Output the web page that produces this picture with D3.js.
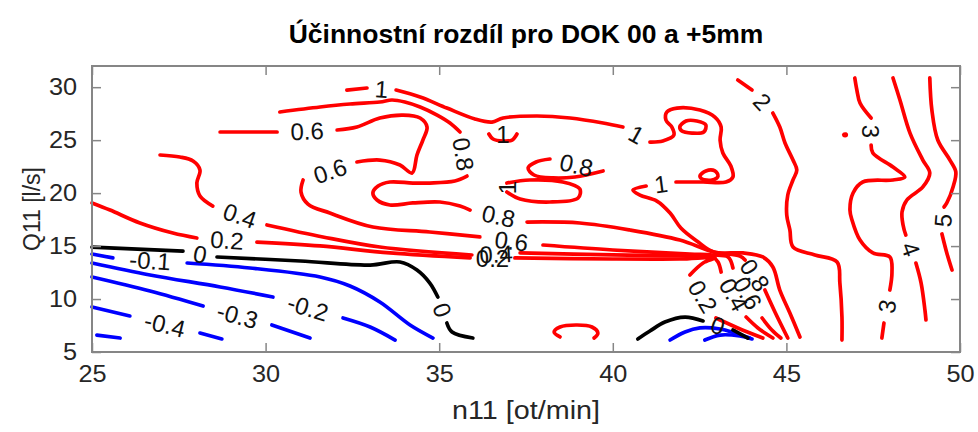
<!DOCTYPE html>
<html>
<head>
<meta charset="utf-8">
<script src="https://cdn.jsdelivr.net/npm/d3@7"></script>
<style>
  body { margin: 0; background: #fff; }
  svg { display: block; }
  text { font-family: "Liberation Sans", Arial, Helvetica, sans-serif; }
</style>
</head>
<body>
<svg id="chart" width="978" height="432"></svg>
<script>
// Axis extents and ticks
const xDomain = [25, 50];
const yDomain = [5, 32];
const xTicks = [25, 30, 35, 40, 45, 50];
const yTicks = [5, 10, 15, 20, 25, 30];

const titleText = "Účinnostní rozdíl pro DOK 00 a +5mm";
const xLabelText = "n11 [ot/min]";
const yLabelText = "Q11 [l/s]";

// Contour lines, points as [n11, Q11]. Each line is split where its inline label sits.
// closedLabel: the label sits in the gap between the last and first point.
const cNeg01a = { level: -0.1, segments: [
  [[25, 14.25], [25.60, 13.88]],
  [[27.74, 13.40], [29.55, 12.93], [31.57, 12.08], [32.43, 11.23], [33.29, 9.72], [34.16, 7.55], [34.82, 6.32]]
]};
const cNeg02a = { level: -0.2, segments: [
  [[25, 13.40], [26.67, 12.27], [28.69, 11.14], [30.21, 10.19]],
  [[32.23, 8.21], [33.01, 7.36], [33.73, 6.13]]
]};
const cNeg03 = { level: -0.3, segments: [
  [[25, 12.08], [26.67, 10.76], [28.20, 9.34]],
  [[30.18, 7.55], [31.28, 6.32]]
]};
const cNeg04 = { level: -0.4, segments: [
  [[25, 9.25], [26.09, 8.40]],
  [[28.11, 6.79], [28.74, 6.23]]
]};
const cNeg05 = { level: -0.5, segments: [
  [[25.14, 6.60], [25.81, 6.32]]
]};
const cNeg01b = { level: -0.1, segments: [
  [[41.65, 6.13], [42.08, 6.89], [42.51, 7.27], [43.09, 7.17], [43.52, 6.79], [43.95, 6.32]]
]};
const cNeg02b = { level: -0.2, segments: [
  [[42.65, 6.13], [43.09, 6.60], [43.66, 6.51], [44.01, 6.23]]
]};

const cZeroA = { level: 0, segments: [
  [[25, 14.91], [27.62, 14.53]],
  [[28.60, 13.97], [31.0, 13.59], [33.01, 13.21], [33.87, 13.50], [34.36, 12.74], [34.73, 11.51], [34.96, 10.19]],
  [[35.22, 7.74], [35.37, 6.89], [35.97, 6.32]]
]};
const cZeroB = { level: 0, segments: [
  [[40.72, 6.23], [41.07, 6.98], [41.50, 7.83], [42.08, 8.30], [42.60, 7.93]],
  [[43.46, 7.08], [43.89, 6.32]]
]};

const cPos02 = { level: 0.2, segments: [
  [[25, 19.07], [25.52, 18.40], [26.38, 17.18], [27.33, 16.23], [28.02, 15.76]],
  [[29.75, 15.38], [31.57, 15.01], [33.58, 14.35], [35.89, 13.88]],
  [[37.18, 13.88], [40.0, 13.78], [41.93, 13.78], [42.94, 13.88], [42.60, 13.40], [42.22, 12.27]],
  [[42.97, 8.21], [43.60, 7.27], [44.32, 6.32]]
]};
const cPos02Arc = { level: 0.2, segments: [
  [[38.48, 6.42], [38.31, 6.89], [38.48, 7.36], [38.97, 7.55], [39.40, 7.36], [39.57, 6.79], [39.46, 6.32]]
]};
const cPos04 = { level: 0.4, segments: [
  [[26.96, 23.60], [27.53, 23.41], [27.91, 23.03], [28.11, 22.18], [28.02, 20.95], [28.11, 19.73], [28.48, 18.78]],
  [[30.04, 16.99], [31.65, 15.86], [33.29, 14.91], [35.94, 14.16]],
  [[37.33, 14.35], [40.0, 14.16], [42.22, 14.06], [42.88, 13.97], [43.03, 13.50], [43.12, 12.55]],
  [[43.84, 8.30], [44.18, 7.27], [44.61, 6.32]]
]};
const cPos06 = { level: 0.6, segments: [
  [[28.69, 25.77], [30.33, 25.77]],
  [[32.06, 25.96], [32.63, 26.24], [33.29, 27.09], [33.96, 27.37], [34.45, 27.09], [34.65, 26.24], [34.53, 25.01],
   [34.36, 23.60], [34.22, 21.90], [33.87, 22.65], [33.29, 23.12], [32.63, 22.94]],
  [[31.08, 21.24], [31.02, 20.10], [31.22, 18.97], [31.85, 18.12], [33.09, 16.80], [34.73, 16.33], [36.17, 15.86]],
  [[37.99, 15.10], [40.0, 14.63], [42.22, 14.25], [42.88, 14.16], [43.32, 13.97], [43.46, 12.93]],
  [[44.30, 8.21], [44.58, 7.08], [44.84, 6.32]]
]};
const cPos08 = { level: 0.8, segments: [
  [[30.41, 27.66], [31.57, 28.13], [32.43, 28.41], [33.29, 28.60], [33.64, 28.79], [34.01, 28.60], [34.45, 28.13],
   [34.94, 27.37], [35.31, 26.62], [35.60, 25.77]],
  [[35.80, 21.61], [35.45, 21.14], [34.73, 20.95], [34.24, 20.95], [33.58, 21.05], [33.24, 20.67], [33.09, 20.01],
   [33.21, 19.35], [33.58, 18.88], [34.24, 19.07], [35.02, 19.16], [35.60, 18.78], [35.89, 18.40]],
  [[37.53, 17.27], [39.05, 17.18], [40.49, 16.52], [41.93, 15.57], [42.91, 14.44], [43.66, 14.06], [43.81, 13.68]],
  [[44.38, 10.85], [44.67, 8.78], [45.04, 6.32]]
]};
const cPos08Hook = { level: 0.8, closedLabel: true, segments: [
  [[38.19, 23.22], [37.79, 22.94], [37.56, 22.37], [37.73, 21.71], [38.28, 21.43], [38.91, 21.52], [39.72, 22.09]]
]};
const cPos1 = { level: 1, segments: [
  [[32.34, 29.73], [32.92, 29.92]],
  [[33.76, 29.73], [34.45, 29.07], [35.22, 28.03], [36.03, 27.0], [36.52, 26.71], [36.84, 27.09], [37.82, 27.28],
   [38.77, 27.09], [39.72, 26.62], [40.29, 26.24]],
  [[41.07, 24.82], [41.44, 24.92], [41.76, 25.48], [41.70, 26.24], [41.53, 26.90], [41.56, 27.66], [41.85, 28.03],
   [42.51, 27.84], [42.94, 27.18], [43.12, 26.24], [43.09, 25.01], [43.17, 23.79], [43.40, 22.56], [43.46, 21.52],
   [43.26, 21.05], [42.60, 21.05], [41.82, 21.05]],
  [[40.96, 20.67], [40.58, 20.29], [40.78, 19.82], [41.27, 19.25], [41.65, 18.12], [41.96, 16.71], [42.42, 15.48],
   [42.91, 14.44], [43.75, 14.35], [44.32, 13.97], [44.61, 13.02], [44.81, 10.85], [45.10, 8.68], [45.39, 6.42]]
]};
const cPos1Eye = { level: 1, closed: true, segments: [
  [[41.93, 26.24], [42.11, 26.81], [42.42, 26.81], [42.68, 26.43], [42.62, 25.77], [42.28, 25.67], [41.99, 25.86]]
]};
const cPos1Knot = { level: 1, closed: true, segments: [
  [[42.51, 21.61], [42.68, 22.09], [42.94, 22.09], [43.03, 21.61], [42.86, 21.24], [42.57, 21.33]]
]};
const cPos1Cup = { level: 1, closedLabel: true, segments: [
  [[36.43, 25.58], [36.55, 25.11], [36.84, 24.92], [37.10, 25.01], [37.24, 25.58]]
]};
const cPos1Ring = { level: 1, closedLabel: true, segments: [
  [[36.95, 20.95], [37.61, 21.24], [38.56, 21.05], [39.05, 20.39], [39.0, 19.54], [38.19, 19.16], [37.33, 19.44], [36.95, 20.10]]
]};
const cPos2 = { level: 2, segments: [
  [[43.60, 30.68], [44.01, 29.73]],
  [[44.61, 27.56], [44.81, 26.24], [44.96, 24.73], [45.19, 23.12], [45.30, 22.18], [45.19, 21.24], [45.04, 19.82],
   [45.01, 17.93], [45.10, 16.52], [45.19, 14.91], [45.82, 14.16], [46.46, 13.50], [46.54, 11.51], [46.60, 8.30], [46.60, 6.13]]
]};
const cPos3 = { level: 3, segments: [
  [[46.97, 30.87], [47.03, 29.73], [47.12, 28.51], [47.44, 27.09]],
  [[47.44, 24.54], [47.49, 23.79], [48.07, 22.46], [48.41, 21.52], [48.07, 21.24], [47.20, 21.05], [46.92, 20.01],
   [46.83, 18.40], [46.89, 17.46], [47.12, 15.57], [47.49, 14.35], [47.98, 13.97], [48.04, 12.46], [47.98, 10.85]],
  [[47.81, 7.74], [47.75, 6.32]]
]};
const cPos3Dot = { level: 3, closed: true, segments: [
  [[46.66, 25.55], [46.72, 25.55], [46.72, 25.45], [46.66, 25.45]]
]};
const cPos4 = { level: 4, segments: [
  [[48.07, 30.87], [48.27, 28.79], [48.56, 25.67], [48.93, 23.12], [49.13, 21.90], [48.93, 20.58], [48.47, 19.35],
   [48.33, 18.22], [48.36, 16.99], [48.44, 16.04]],
  [[48.73, 13.40], [48.88, 11.51], [48.99, 8.96], [49.02, 8.02]]
]};
const cPos5 = { level: 5, segments: [
  [[49.13, 30.87], [49.19, 27.84], [49.36, 25.01], [49.71, 23.12], [49.88, 22.0], [49.80, 20.58], [49.62, 19.07], [49.54, 18.69]],
  [[49.48, 16.14], [49.62, 14.35], [49.77, 12.74]]
]};

const contours = [
  cNeg01a, cNeg02a, cNeg03, cNeg04, cNeg05, cNeg01b, cNeg02b,
  cZeroA, cZeroB,
  cPos02, cPos02Arc, cPos04, cPos06, cPos08, cPos08Hook,
  cPos1, cPos1Eye, cPos1Knot, cPos1Cup, cPos1Ring,
  cPos2, cPos3, cPos3Dot, cPos4, cPos5
];

// ---------------------------------------------------------------------------
const svg = d3.select("#chart");
const plot = { left: 92, right: 960, top: 66, bottom: 352 };
const fontStack = "'Liberation Sans', Arial, Helvetica, sans-serif";
const wide = 1.1; // glyphs are drawn slightly wider than the font's own proportions

const x = d3.scaleLinear().domain(xDomain).range([plot.left, plot.right]);
const y = d3.scaleLinear().domain(yDomain).range([plot.bottom, plot.top]);

const colorFor = v => v > 0 ? "#ff0000" : (v < 0 ? "#0000ff" : "#000000");

svg.append("rect").attr("width", 978).attr("height", 432).attr("fill", "#fff");

// contour lines
const lineOpen = d3.line().x(d => x(d[0])).y(d => y(d[1])).curve(d3.curveCatmullRom.alpha(0.5));
const lineClosed = d3.line().x(d => x(d[0])).y(d => y(d[1])).curve(d3.curveCatmullRomClosed.alpha(0.5));

const gLines = svg.append("g");
contours.forEach(c => {
  c.segments.forEach(seg => {
    gLines.append("path")
      .attr("d", (c.closed ? lineClosed : lineOpen)(seg))
      .attr("fill", "none")
      .attr("stroke", colorFor(c.level))
      .attr("stroke-width", 3.7)
      .attr("stroke-linecap", "round")
      .attr("stroke-linejoin", "round");
  });
});

// inline labels, placed in each gap and turned along the line
const gLabels = svg.append("g");
function addLabel(level, a, b) {
  const ax = x(a[0]), ay = y(a[1]), bx = x(b[0]), by = y(b[1]);
  let ang = Math.atan2(by - ay, bx - ax) * 180 / Math.PI;
  if (ang > 90) ang -= 180;
  if (ang < -90) ang += 180;
  gLabels.append("text")
    .attr("transform", `translate(${(ax + bx) / 2},${(ay + by) / 2}) rotate(${ang})`)
    .attr("text-anchor", "middle")
    .attr("dy", "0.36em")
    .attr("font-size", 24)
    .attr("fill", "#111")
    .text(String(level));
}
contours.forEach(c => {
  const s = c.segments;
  for (let i = 0; i < s.length - 1; i++) addLabel(c.level, s[i][s[i].length - 1], s[i + 1][0]);
  if (c.closedLabel) addLabel(c.level, s[s.length - 1][s[s.length - 1].length - 1], s[0][0]);
});

// axes box and inward ticks
const axisColor = "#868686";
const tick = 9;
function styleAxis(g) {
  g.select(".domain").remove();
  g.selectAll(".tick line").attr("stroke", axisColor).attr("stroke-width", 1.5);
  g.selectAll(".tick text").attr("fill", "#262626").attr("font-size", 23)
    .attr("font-family", fontStack);
}
svg.append("g").attr("transform", `translate(0,${plot.bottom})`)
  .call(d3.axisBottom(x).tickValues(xTicks).tickSize(-tick).tickPadding(14).tickFormat(d3.format("d")))
  .call(styleAxis)
  .call(g => g.selectAll(".tick text").attr("transform", `scale(${wide},1)`));
svg.append("g").attr("transform", `translate(0,${plot.top})`)
  .call(d3.axisTop(x).tickValues(xTicks).tickSize(-tick).tickFormat(""))
  .call(styleAxis);
svg.append("g").attr("transform", `translate(${plot.left},0)`)
  .call(d3.axisLeft(y).tickValues(yTicks).tickSize(-tick).tickPadding(15).tickFormat(d3.format("d")))
  .call(styleAxis)
  .call(g => g.selectAll(".tick text").attr("x", -15 / wide).attr("transform", `scale(${wide},1)`));
svg.append("g").attr("transform", `translate(${plot.right},0)`)
  .call(d3.axisRight(y).tickValues(yTicks).tickSize(-tick).tickFormat(""))
  .call(styleAxis);

svg.append("rect")
  .attr("x", plot.left).attr("y", plot.top)
  .attr("width", plot.right - plot.left).attr("height", plot.bottom - plot.top)
  .attr("fill", "none").attr("stroke", axisColor).attr("stroke-width", 2);

// titles
const cx = (plot.left + plot.right) / 2;
svg.append("text")
  .attr("transform", `translate(${cx},43) scale(1.06,1)`)
  .attr("text-anchor", "middle").attr("font-size", 25).attr("font-weight", "bold")
  .attr("fill", "#000").text(titleText);
svg.append("text")
  .attr("transform", `translate(${cx},419) scale(1.15,1)`)
  .attr("text-anchor", "middle").attr("font-size", 25)
  .attr("fill", "#262626").text(xLabelText);
svg.append("text")
  .attr("transform", `translate(40,${(plot.top + plot.bottom) / 2}) rotate(-90)`)
  .attr("text-anchor", "middle").attr("font-size", 23)
  .attr("fill", "#262626").text(yLabelText);
</script>
</body>
</html>
